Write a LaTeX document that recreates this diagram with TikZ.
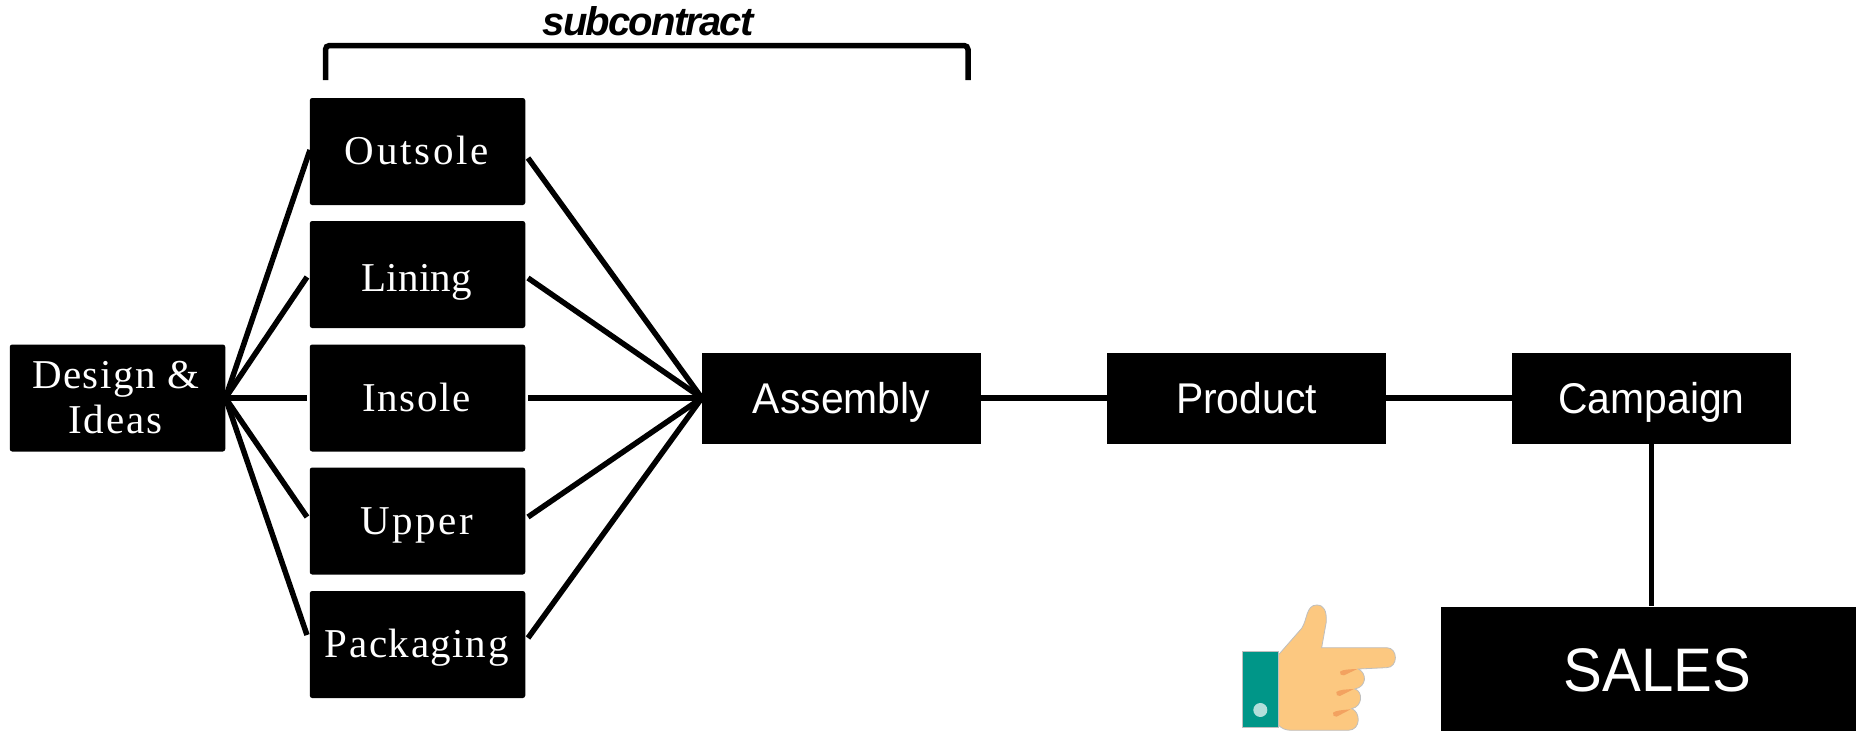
\documentclass[tikz,border=0pt]{standalone}
\usepackage{fontspec}
\setmainfont{Liberation Sans}
\newfontfamily\partfont{Liberation Serif}
\newfontfamily\subfont[LetterSpace=-4.5]{Liberation Sans}
\usetikzlibrary{positioning,calc}
% serif label with its own tracking
\newcommand{\tracked}[2]{{\addfontfeature{LetterSpace=#1}#2}\hspace*{1.5pt}}
\newcommand{\narrow}[1]{\scalebox{0.95}[1]{#1}}

\begin{document}
\begin{tikzpicture}[x=1pt,y=-1pt,
        every node/.style={fill=black,text=white,inner sep=0pt,align=center},
        link/.style={line width=5.5pt}]
        \useasboundingbox (0,0) rectangle (1856,731);
        \tikzset{part/.style={minimum width=215.5pt,minimum height=107pt,rounded corners=2.5pt,
                font=\partfont\fontsize{41}{45}\selectfont},
            partline/.style={part,text height=34pt,text depth=8pt},
            stage/.style={minimum width=279pt,minimum height=91pt,text height=36pt,text depth=6pt,
                font=\fontsize{43}{46}\selectfont}}
        % left column
        \node[part] (design) at (117.5,398) {\tracked{3.4}{Design \&}\hspace*{2pt}\\\tracked{4.6}{Ideas}\hspace*{3pt}};
        \node[partline] (outsole) at (417.5,151.5) {\tracked{6.7}{Outsole}};
        \node[partline,text depth=0pt] (lining)  at (417.5,274.5) {\tracked{0.5}{Lining}};
        \node[partline] (insole)  at (417.5,398) {\tracked{3.9}{Insole}};
        \node[partline] (upper)   at (417.5,521) {\tracked{5.8}{Upper}};
        \node[partline] (packaging) at (417.5,644.5) {\tracked{3.9}{Packaging}};
        % stages
        \node[stage] (assembly) at (841.5,398) {\narrow{Assembly}};
        \node[stage] (product)  at (1246.5,398) {\narrow{Product}};
        \node[stage] (campaign) at (1651.5,398) {\narrow{Campaign}};
        \node[minimum width=415pt,minimum height=124.5pt,text height=50pt,text depth=4.6pt,
            font=\fontsize{61.5}{66}\selectfont]
            (sales) at (1648.5,668.75) {\hspace*{17.6pt}\scalebox{0.945}[1]{SALES}};
        % free ends of the fan lines
        \coordinate (hubL) at (design.east);
        \coordinate (hubR) at (assembly.west);
        \coordinate (outsoleL) at (310,150);
        \coordinate (liningL)  at (307,277);
        \coordinate (insoleL)  at (307,398);
        \coordinate (upperL)   at (307,517);
        \coordinate (packagingL) at (307,635);
        \coordinate (outsoleR) at (528,158);
        \coordinate (liningR)  at (528,278);
        \coordinate (insoleR)  at (528,398);
        \coordinate (upperR)   at (528,517);
        \coordinate (packagingR) at (528,638);
        \foreach \p in {outsole,lining,insole,upper,packaging} {
            \draw[link] (hubL) -- (\p L);
            \draw[link] (\p R) -- (hubR);
        }
        \draw[link] (assembly) -- (product);
        \draw[link] (product) -- (campaign);
        \draw[link] (campaign.south) -- (campaign.south |- sales.north);
        % bracket over the subcontracted parts
        \coordinate (brL) at (325.5,80);
        \coordinate (brR) at (968,80);
        \draw[link,rounded corners=4pt] (brL) -- (325.5,45.5) -- (968,45.5) -- (brR);
        \node[fill=none,text=black,font=\subfont\bfseries\itshape\fontsize{40}{45}\selectfont]
            (subcontract) at (648,21) {subcontract};
        % hand
        \begin{scope}[shift={(1220,590)},x=0.3333pt,y=-0.3333pt]
            \filldraw[draw=black!25,line width=0.8pt,fill={rgb,255:red,252;green,200;blue,128}]
                (175,195) -- (245,115) .. controls (262,90) and (258,45) .. (290,45)
                .. controls (312,45) and (320,62) .. (319,95) -- (305,173) -- (500,173)
                .. controls (535,173) and (535,233) .. (500,233) -- (415,237)
                .. controls (442,250) and (440,290) .. (405,297)
                .. controls (430,305) and (428,350) .. (395,356)
                .. controls (422,365) and (424,420) .. (385,421) -- (215,421)
                .. controls (195,421) and (185,415) .. (175,405) -- cycle;
            \fill[fill={rgb,255:red,243;green,162;blue,96}]
                (360,245) .. controls (368,238) and (390,238) .. (412,237) -- (372,256) .. controls (364,258) and (358,252) .. (360,245) -- cycle;
            \fill[fill={rgb,255:red,243;green,162;blue,96}]
                (349,306) .. controls (357,299) and (380,298) .. (402,297) -- (360,318) .. controls (352,320) and (347,313) .. (349,306) -- cycle;
            \fill[fill={rgb,255:red,243;green,162;blue,96}]
                (339,368) .. controls (347,361) and (370,360) .. (392,358) -- (350,380) .. controls (342,382) and (337,375) .. (339,368) -- cycle;
            \filldraw[draw=black!25,line width=0.8pt,fill={rgb,255:red,0;green,150;blue,136}] (68,183) rectangle (175,412);
            \fill[fill={rgb,255:red,178;green,223;blue,219}] (121,360) circle (21);
        \end{scope}
    \end{tikzpicture}
\end{document}
